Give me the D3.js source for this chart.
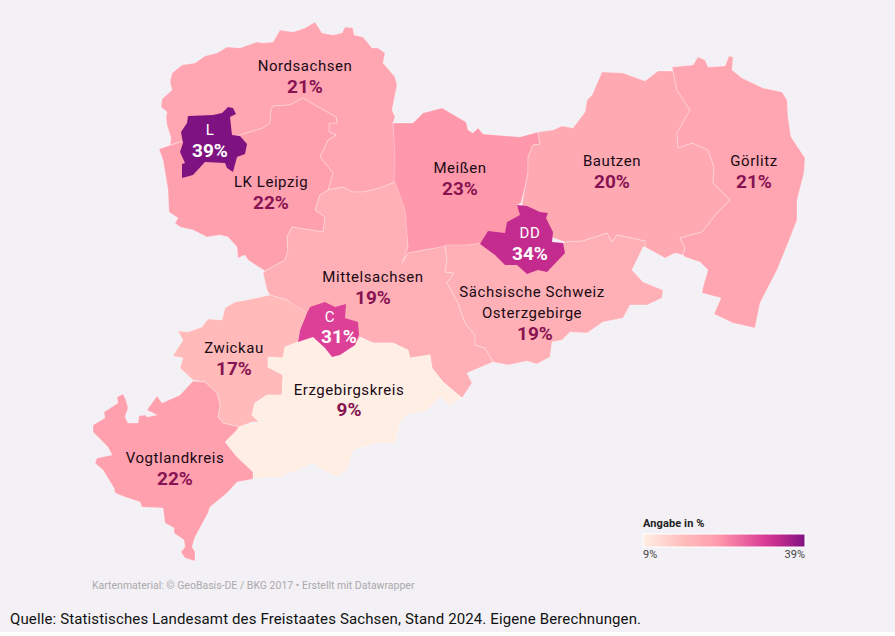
<!DOCTYPE html>
<html><head><meta charset="utf-8">
<script src="https://cdn.jsdelivr.net/npm/d3@7"></script>
<style>html,body{margin:0;padding:0;background:#fff;overflow:hidden}svg{display:block}
text{font-family:Roboto,sans-serif}</style></head>
<body><svg id="c" width="895" height="636"></svg>
<script>
// Data
const regionNames = ["Nordsachsen","LK Leipzig","Meißen","Bautzen","Görlitz","Mittelsachsen","Sächsische Schweiz Osterzgebirge","Zwickau","Erzgebirgskreis","Vogtlandkreis","Leipzig","Dresden","Chemnitz"];
const regionValues = [21,22,23,20,21,19,19,17,9,22,39,34,31];
const regionLabels = [["Nordsachsen"],["LK Leipzig"],["Meißen"],["Bautzen"],["Görlitz"],["Mittelsachsen"],["Sächsische Schweiz","Osterzgebirge"],["Zwickau"],["Erzgebirgskreis"],["Vogtlandkreis"],["L"],["DD"],["C"]];
// Map-plane anchors of labels: name line [x, baseline], value [x, baseline]
const nameAnchors = [[305,71],[271,187],[460,173],[612,166],[754,166],[373,282],[532,297],[234,353],[349,395],[175,463],[210,135],[530,238],[330,322]];
const valueAnchors = [[305,93],[271,209],[460,195],[612,188],[754,188],[373,304],[535,340],[234,375],[349,416],[175,485],[210,157],[530,260],[339,343]];
// Region outlines in map-plane units
const nordsachsen = [[170,145],[171,138],[167,125],[166,117],[167,112],[161,107],[162,99],[172,90],[170,82],[172,73],[182,65],[195,63],[205,56],[217,53],[227,47],[240,48],[257,42],[263,43],[273,42],[280,30],[293,32],[305,28],[315,22],[322,33],[333,35],[342,33],[345,27],[353,28],[354,35],[363,37],[372,48],[378,48],[385,53],[383,63],[395,77],[397,85],[392,110],[395,117],[393,123],[397,163],[395,182],[380,188],[363,192],[352,192],[343,187],[328,190],[330,183],[333,173],[320,157],[328,140],[336,135],[329,132],[329,123],[337,123],[336,117],[320,108],[303,98],[290,105],[273,106],[271,110],[270,123],[263,128],[237,136],[180,142]];
const lkLeipzig = [[159,149],[180,142],[237,136],[263,128],[270,123],[271,110],[273,106],[290,105],[303,98],[320,108],[336,117],[337,123],[329,123],[329,132],[336,135],[328,140],[320,157],[333,173],[330,183],[328,190],[320,195],[315,210],[325,217],[323,232],[292,227],[287,237],[288,250],[285,260],[265,271],[248,260],[245,255],[238,258],[237,247],[228,237],[220,235],[207,237],[193,230],[180,227],[175,223],[178,218],[169,212],[168,190],[165,172],[163,160]];
const leipzig = [[188,116],[213,115],[222,113],[228,107],[233,108],[236,114],[230,117],[232,135],[240,136],[247,144],[245,154],[237,157],[233,172],[227,168],[225,163],[205,162],[193,175],[182,178],[182,164],[185,163],[180,152],[183,143],[181,132],[187,123]];
const meissen = [[393,123],[413,123],[423,113],[442,108],[466,122],[468,130],[473,133],[478,128],[483,134],[520,137],[538,132],[540,144],[533,145],[528,157],[528,173],[525,187],[521,203],[517,205],[525,220],[510,240],[490,242],[480,244],[470,245],[445,247],[430,249],[408,253],[402,262],[408,247],[405,223],[397,200],[394,183],[395,157]];
const bautzen = [[538,132],[553,130],[562,126],[573,128],[585,112],[587,100],[592,95],[602,72],[623,73],[645,81],[658,71],[673,71],[677,90],[690,110],[677,133],[678,148],[692,143],[708,150],[714,167],[713,183],[730,200],[717,213],[702,232],[680,238],[685,248],[683,255],[675,253],[665,258],[645,247],[645,241],[617,235],[612,242],[607,233],[583,241],[565,242],[545,235],[530,220],[522,205],[525,187],[528,173],[528,157],[533,145],[540,144]];
const goerlitz = [[673,71],[672,67],[693,65],[698,57],[705,60],[708,67],[725,66],[729,56],[733,57],[732,70],[742,78],[763,88],[782,92],[787,100],[788,117],[791,137],[805,158],[804,173],[797,200],[797,220],[788,243],[777,270],[760,303],[755,328],[733,323],[714,314],[721,298],[702,293],[703,287],[708,270],[700,262],[685,257],[683,255],[685,248],[680,238],[702,232],[717,213],[730,200],[713,183],[714,167],[708,150],[692,143],[678,148],[677,133],[690,110],[677,90]];
const dresden = [[517,205],[527,206],[540,212],[548,213],[546,218],[553,232],[552,242],[563,243],[565,253],[547,272],[538,270],[527,274],[517,265],[505,265],[495,255],[480,244],[488,231],[505,233],[507,222],[520,215]];
const soe = [[445,245],[470,245],[480,243],[510,248],[530,252],[550,250],[565,242],[583,241],[607,233],[612,242],[617,235],[645,241],[645,247],[643,247],[632,270],[643,282],[663,290],[662,298],[647,305],[630,305],[623,318],[603,322],[587,333],[570,332],[562,340],[552,342],[550,357],[537,364],[527,361],[508,365],[493,362],[485,348],[475,345],[475,335],[465,323],[458,303],[447,283],[454,273],[445,272],[447,260]];
const mittelsachsen = [[395,182],[405,210],[408,247],[402,263],[408,253],[430,249],[445,246],[447,260],[445,272],[454,273],[447,283],[458,303],[465,323],[475,335],[475,345],[485,348],[493,362],[467,373],[472,383],[462,398],[443,382],[432,368],[430,355],[410,358],[408,350],[393,343],[373,343],[360,337],[355,345],[340,355],[325,348],[313,337],[302,313],[287,300],[270,295],[267,290],[263,273],[265,271],[285,260],[288,250],[287,237],[292,227],[323,232],[325,217],[315,210],[320,195],[328,190],[343,187],[352,192],[363,192],[380,188]];
const zwickau = [[270,295],[247,300],[235,302],[225,308],[222,320],[208,319],[202,327],[188,332],[178,331],[183,340],[173,356],[183,358],[180,368],[193,380],[205,382],[217,393],[220,405],[218,417],[223,423],[239,427],[252,422],[259,422],[252,415],[255,403],[267,395],[282,395],[283,375],[268,367],[268,357],[283,358],[285,347],[298,342],[300,330],[307,313],[287,300]];
const vogtland = [[193,381],[205,382],[217,393],[220,405],[218,417],[223,423],[239,427],[235,432],[225,442],[237,457],[253,472],[253,479],[237,482],[227,493],[210,507],[208,513],[195,537],[192,547],[195,552],[195,561],[185,558],[181,552],[185,547],[184,540],[174,533],[174,528],[165,523],[163,508],[142,507],[140,502],[125,497],[115,493],[114,488],[103,470],[95,463],[97,458],[112,455],[108,447],[93,432],[93,425],[105,418],[104,412],[118,403],[117,397],[123,394],[126,400],[128,408],[125,417],[128,423],[138,423],[139,416],[145,415],[147,417],[157,415],[147,410],[157,396],[162,403],[180,395]];
const erzgebirge = [[283,358],[268,357],[268,367],[283,375],[282,395],[267,395],[255,403],[252,415],[259,422],[252,424],[239,427],[225,442],[237,457],[253,472],[253,479],[267,477],[280,477],[297,470],[313,463],[323,470],[337,477],[347,470],[353,450],[377,443],[395,443],[400,423],[407,415],[427,410],[440,397],[450,405],[462,398],[443,382],[432,368],[430,355],[410,358],[408,350],[393,343],[373,343],[360,337],[355,345],[340,355],[332,357],[325,348],[313,337],[298,342],[285,347]];
const chemnitz = [[310,307],[325,302],[335,307],[346,304],[345,318],[358,322],[359,335],[355,345],[340,355],[332,357],[325,348],[313,337],[298,342],[300,330],[307,313]];
const regionOutlines = [nordsachsen,lkLeipzig,meissen,bautzen,goerlitz,mittelsachsen,soe,zwickau,erzgebirge,vogtland,leipzig,dresden,chemnitz];
const legendTitle = "Angabe in %";
const legendValues = [9,39];
const creditText = "Kartenmaterial: © GeoBasis-DE / BKG 2017 • Erstellt mit Datawrapper";
const sourceText = "Quelle: Statistisches Landesamt des Freistaates Sachsen, Stand 2024. Eigene Berechnungen.";

// Scales
const color = d3.scaleLinear()
  .domain([9,17,19,20,21,22,23,31,34,39])
  .range(["#ffeee4","#ffbab9","#ffb0b6","#ffa9b3","#ffa6b2","#ffa0af","#ff98ab","#dc4197","#c42b8e","#7f1281"]);
const legendX = d3.scaleLinear().domain(legendValues).range([643,805]);

const svg = d3.select("#c");
svg.append("rect").attr("width",895).attr("height",632).attr("fill","#f3f1f5");

// Map
const features = regionNames.map((name,i)=>({type:"Feature",properties:{name,value:regionValues[i],idx:i},
  geometry:{type:"Polygon",coordinates:[[...regionOutlines[i],regionOutlines[i][0]]]}}));
const projection = d3.geoIdentity();
const path = d3.geoPath(projection);
svg.append("g").selectAll("path").data(features).join("path")
  .attr("d",path).attr("fill",d=>color(d.properties.value))
  .attr("stroke",(d,i)=>i>=10?"none":"#fff").attr("stroke-opacity",.4).attr("stroke-width",.7).attr("stroke-linejoin","round");

// Labels
const labels = svg.append("g").attr("text-anchor","middle");
features.forEach((d,i)=>{
  const city = i>=10;
  const [nx,ny]=nameAnchors[i],[vx,vy]=valueAnchors[i];
  regionLabels[i].forEach((line,j)=>{
    labels.append("text").attr("x",nx).attr("y",ny+j*21).text(line)
      .attr("font-size",15).attr("letter-spacing",.55).attr("fill",city?"#fff":"#1a0a14");
  });
  labels.append("text").attr("x",vx).attr("y",vy).text(d.properties.value+"%")
    .attr("font-size",19).attr("font-weight",700).attr("fill",city?"#fff":"#871352");
});

// Legend
const defs = svg.append("defs");
const grad = defs.append("linearGradient").attr("id","lg");
d3.range(legendValues[0],legendValues[1]+1).forEach(v=>{
  grad.append("stop").attr("offset",(v-legendValues[0])/(legendValues[1]-legendValues[0])).attr("stop-color",color(v));
});
svg.append("text").attr("x",legendX(9)).attr("y",527).text(legendTitle)
  .attr("font-size",11).attr("font-weight",700).attr("letter-spacing",.1).attr("fill","#222");
svg.append("rect").attr("x",legendX(9)).attr("y",534).attr("width",legendX(39)-legendX(9)).attr("height",13)
  .attr("fill","url(#lg)").attr("stroke","#fff").attr("stroke-width",1);
legendValues.forEach((v,i)=>{
  svg.append("text").attr("x",legendX(v)).attr("y",558).text(v+"%")
    .attr("text-anchor",i?"end":"start").attr("font-size",11).attr("fill","#444");
});

// Footer
svg.append("text").attr("x",92).attr("y",589).text(creditText).attr("font-size",10.5).attr("fill","#aaa9ac");
svg.append("text").attr("x",10).attr("y",624).text(sourceText).attr("font-size",15).attr("letter-spacing",.13).attr("fill","#111");
</script></body></html>
